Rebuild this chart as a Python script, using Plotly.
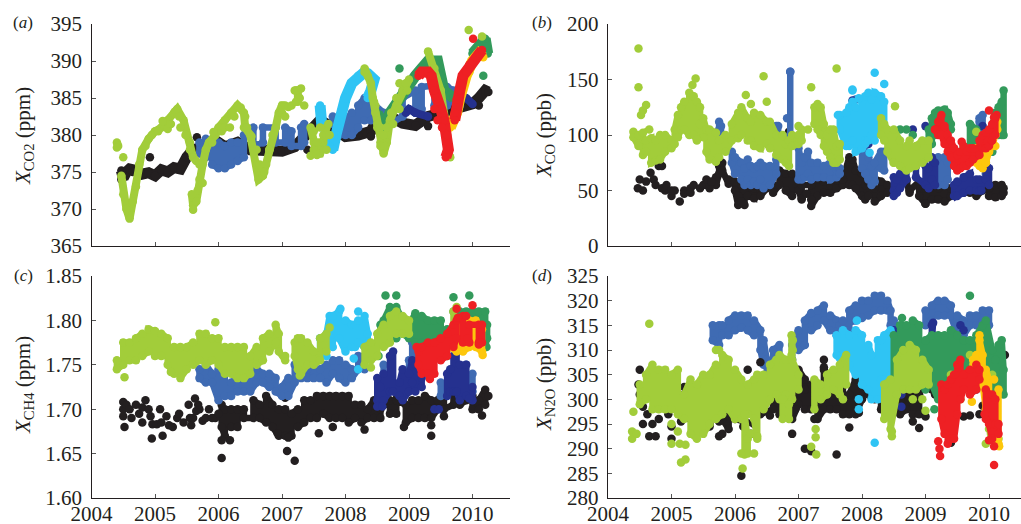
import plotly.graph_objects as go

BLACK, LGREEN, BLUE, NAVY, LBLUE, DGREEN, GOLD, RED = (
    "#231f20", "#a2cd3a", "#3f6bb3", "#25318f", "#2fc4f4", "#339a5b", "#fdc70c", "#ee2024")
YEARS = [2004, 2005, 2006, 2007, 2008, 2009, 2010]
TICKS_A = [365, 370, 375, 380, 385, 390, 395]
TICKS_B = [0, 50, 100, 150, 200]
TICKS_C = [1.60, 1.65, 1.70, 1.75, 1.80, 1.85]
TICKS_D = [280, 285, 290, 295, 300, 305, 310, 315, 320, 325]

# x values are years after 2000; None breaks a run. Panel (a): CO2
A_BLACK_X = [4.47,4.5,4.55,4.6,4.7,4.8,4.9,5.0,5.1,5.2,5.3,5.4,5.5,5.6,5.8,6.0,6.1,6.3,6.5,6.9,7.0,7.2,7.4,7.5,7.6,7.8,8.0,8.2,8.4,8.5,8.7,8.9,9.1,9.3,9.5,9.8,10.0,10.1,10.2,10.25]
A_BLACK_Y = [375.2,374.2,375,375.4,375.2,374.7,374.9,374.5,375.3,375,375.6,375.4,377,378,378.5,379,378.4,379,378,378,377.8,378.4,380,381,382,381,379.8,380,380.5,382,382.5,381.6,381.3,382.5,383,384,384.2,385,386,385.8]
A_BLACK_DX = [4.92,5.66,4.47,4.65,8.4,7.4,7.1,9.3,10.1]
A_BLACK_DY = [377,379.7,374,375,379.8,378,378,381.2,384]
A_BLUE_X = [5.7,5.8,5.9,6.0,6.1,6.2,6.3,6.4,6.55,6.7,6.9,7.05,7.15,7.3,7.35,None,7.8,7.9,8.0,8.1,8.2,8.3,8.4,8.6,8.9,9.1,9.2,9.4,9.6,9.7,9.8]
A_BLUE_HI = [379,379.5,379,379,378.5,379,379,380,381,381,381,381,380.5,381,381.5,None,382.5,381,382,383,384,385,384.5,383,385,386,386.5,386.7,386.5,386,385.5]
A_BLUE_LO = [377.5,377,376,375.5,375.5,376,376.5,377,378.5,379,379,379,378.5,378.5,379,None,381.5,380,380,380,381,382,382,381,382.5,383,383.5,384,384,384.5,384]
A_NAVY_X = [8.95,9.0,9.1,9.3,None,9.9,10.0]
A_NAVY_Y = [383,383.5,383,382.5,None,385,384.2]
A_LBLUE_X = [7.63,7.6,None,7.7,7.75,7.8,7.85,7.9,8.0,8.1,8.2,8.3,8.35,8.45,8.4,8.35]
A_LBLUE_Y = [381,384,None,380,378.5,378,380,382,385,387,388,388.5,388.3,387.5,386,385]
A_DGREEN_X = [8.5,8.6,8.7,8.85,8.9,9.0,9.1,9.2,9.3,9.45,9.5,9.55,9.7,None,10.0,10.1,10.2,10.24]
A_DGREEN_Y = [383,381,383,385,386,387,388,389,390,390,388,386,385,None,391,392,393,391]
A_DGREEN_DX = [8.85,10.17]
A_DGREEN_DY = [389,388]
A_LGREEN_X = [4.4,4.42,None,4.47,4.5,4.55,4.6,4.65,4.7,4.75,4.8,4.9,5.0,5.1,5.2,5.3,5.35,5.45,5.5,5.55,5.6,5.65,None,5.58,5.6,5.65,5.7,5.75,5.8,5.85,5.95,6.0,6.1,6.2,6.3,6.4,6.42,6.5,6.55,6.6,6.63,6.7,6.75,6.8,6.9,6.95,7.0,7.05,None,7.2,7.25,7.25,None,7.45,7.5,7.55,7.6,7.65,7.7,None,8.3,8.35,8.4,8.43,8.47,8.5,8.55,8.6,8.65,8.7,8.8,8.9,9.0,None,9.3,9.4,9.5,9.55,9.6,9.6,9.65]
A_LGREEN_Y = [379,378.5,None,374.5,372,370,368.7,371,373,376,378,379.5,380.5,381,382,383,383.5,382,380,378,377,376.5,None,372,370.5,371,374,376,378,379,380,381,382,383,384,383,381,380,378,376,374,374.5,376,378,381,383,384,384,None,386,386,384.5,None,381,379,377.5,377.5,379,381,None,389,388,387,385,383,381,379,377.5,379,382,384,386,387.5,None,391.3,389,386,383,381,378,377]
A_LGREEN_DX = [4.5,4.4,5.6,6.4,9.94,10.15,8.85,9.95,7.6,7.55,9.95,8.3,4.85,4.95,5.05,5.12,5.2,5.25,5.32,5.38,5.4,5.48,5.55,5.7,5.75,5.67,5.9,5.92,6.05,6.1,6.18,6.25,6.35,6.42,6.45,6.52,6.6,6.65,6.68,6.72,6.8,6.85,7.0,7.05,7.1,7.15,7.22,7.3,7.28,7.22,7.35,7.5,7.55,7.6,7.65,7.7,7.7,7.73,7.75,7.5,7.45,7.55,8.47,8.5,8.45,8.55,8.55,8.62,8.6,8.65,8.72,8.75,8.8,8.85,8.95,8.97]
A_LGREEN_DY = [377,378.3,369.9,381,394.2,393.3,387,388.5,379,378.5,389.5,388.5,378.5,380,380.5,381.9,380.8,381.5,383.2,382.5,381,380,379,376,373.5,372.5,379,380.4,380.5,381,381,382.5,383.7,382.5,381,379.8,378,376,375,375,378,380,383,382.5,383.8,384,386,386.3,385,384.5,384,380.5,379,381,380,378,380,381.5,380,378,377.2,377.3,384,381.5,384.5,381,378.5,378.5,380,381,383,381.5,385,383.5,387,386]
A_GOLD_X = [9.65,9.7,9.75,9.8,9.85,9.9,9.95,10.0,10.1,10.17]
A_GOLD_Y = [381,382,383,385,387,388,389,390,391,390.5]
A_RED_X = [9.15,9.2,9.3,9.35,9.4,9.45,9.5,9.55,9.6,9.62,9.58,None,9.72,9.75,9.8,9.85,9.9,9.95,10.0,10.05,10.1,10.15]
A_RED_Y = [388,388.5,388.5,388,386,385,383.5,382,380,378,377,None,382,384.8,386,388,388.5,389.5,390,390.5,391,391.5]
A_RED_DX = [10.01,9.4,9.45,9.52,9.72]
A_RED_DY = [393,383.5,382,381,383]

# Panel (b): CO
B_BLACK_X = [5.7,5.75,5.8,5.9,6.0,6.05,6.1,6.15,6.2,6.3,6.4,6.5,6.6,6.7,6.8,6.9,7.0,7.05,7.2,7.3,7.4,7.5,7.6,7.7,7.8,7.85,7.9,8.0,8.05,8.1,8.2,8.3,8.4,8.5,8.7,8.75,8.9,9.0,9.1,9.2,9.3,9.4,9.6,9.7,9.8,9.9,10.0,10.1,10.2,10.23]
B_BLACK_HI = [62,72,75,60,58,45,55,50,58,52,50,58,55,68,65,65,60,55,55,60,58,55,62,60,80,78,68,65,55,58,52,58,55,52,60,50,58,52,55,52,55,52,50,50,50,52,52,55,55,52]
B_BLACK_LO = [55,65,68,56,50,37,40,37,45,43,45,52,48,55,50,45,50,42,36,45,48,48,52,55,55,55,52,45,42,45,40,45,48,50,58,48,45,38,42,42,40,45,48,48,45,50,45,44,45,48]
B_BLACK_DX = [4.5,4.47,4.55,4.6,4.67,4.72,4.75,4.8,4.85,4.85,4.9,4.92,5.0,5.0,5.05,5.13,5.2,5.2,5.3,5.3,5.35,5.45,5.5,5.55,5.6,5.55,5.63,6.85,7.05,7.2,7.13,8.75,9.0]
B_BLACK_DY = [60,52,50,58,66,60,55,72,72,52,50,55,45,50,50,40,50,47,52,48,55,52,55,55,52,60,58,103,43,42,47,50,38]
B_BLUE_X = [5.75,5.78,None,5.95,6.0,6.1,6.15,6.2,6.25,6.3,6.35,6.4,6.45,6.55,6.65,6.68,None,6.87,6.87,None,7.0,7.05,7.1,7.15,7.2,7.3,7.4,7.5,7.6,7.65,None,8.0,8.05,8.1,8.15,8.2,8.3,8.35,None,9.2,9.3,9.35,None,9.85,9.9,9.95]
B_BLUE_HI = [112,108,None,85,80,75,70,78,72,70,72,75,72,72,78,108,None,157,157,None,88,75,80,85,75,75,72,75,68,70,None,85,85,80,72,75,85,85,None,80,80,75,None,115,118,85]
B_BLUE_LO = [105,100,None,75,65,60,55,60,55,58,55,60,52,55,65,85,None,100,100,None,60,60,62,65,60,62,62,60,62,65,None,70,65,60,55,58,70,68,None,55,55,60,None,100,100,65]
B_BLUE_DX = [6.65,6.82,6.95,7.55,7.9,9.9,9.85,10.05]
B_BLUE_DY = [108,115,92,72,132,105,112,85]
B_NAVY_X = [8.5,8.55,8.6,8.7,8.85,9.0,9.05,9.1,9.15,None,9.45,9.5,9.6,9.7,9.8,9.85,9.95,10.0]
B_NAVY_HI = [62,60,65,72,72,72,70,80,75,None,55,58,62,65,60,60,75,70]
B_NAVY_LO = [50,48,52,60,62,55,52,60,55,None,45,45,48,50,50,50,60,55]
B_NAVY_DX = [9.0,8.8,8.5,9.9,9.88,8.1,7.85]
B_NAVY_DY = [108,105,45,108,50,92,131]
B_LBLUE_X = [7.65,7.75,7.8,7.85,7.9,8.0,8.05,8.1,8.15,8.2,8.3,8.35]
B_LBLUE_HI = [118,120,125,130,125,130,135,138,132,138,135,130]
B_LBLUE_LO = [105,90,90,95,85,88,95,95,100,100,105,105]
B_LBLUE_DX = [7.85,7.85,7.95,8.2,8.35,8.05,8.12,8.2,7.62]
B_LBLUE_DY = [140,141,133,156,146,92,84,95,118]
B_DGREEN_X = [9.05,9.1,9.15,9.2,9.3,9.35,9.4,None,9.7,9.8,None,10.05,10.1,10.15,10.2,10.23]
B_DGREEN_HI = [105,115,120,122,123,120,110,None,110,105,None,108,120,125,130,140]
B_DGREEN_LO = [90,92,100,105,110,105,105,None,90,90,None,85,100,100,100,100]
B_DGREEN_DX = [8.6,8.8,8.7,8.5,9.55,9.6]
B_DGREEN_DY = [105,100,105,80,85,90]
B_LGREEN_X = [4.4,4.48,4.55,4.6,4.68,4.75,4.82,4.9,5.0,5.05,5.1,5.15,5.2,5.28,5.35,5.4,5.45,5.5,5.55,5.6,5.7,5.75,5.85,5.95,6.05,6.1,6.2,6.25,6.3,6.4,6.5,6.55,6.65,6.75,6.8,6.85,6.9,7.0,7.05,None,7.25,7.3,7.35,7.4,7.45,7.5,7.55,7.6,7.65,None,8.3,8.35,8.4,8.5,8.6,8.7,8.75,8.85,8.95,9.05]
B_LGREEN_HI = [103,100,102,95,97,95,100,100,95,105,118,125,130,138,135,130,125,115,105,105,102,95,100,110,120,125,115,112,120,118,112,112,100,100,92,95,100,100,105,None,125,128,125,110,100,105,105,90,92,None,115,110,105,105,95,90,95,90,95,95]
B_LGREEN_LO = [98,90,82,85,75,77,78,85,88,92,98,105,105,100,100,95,110,98,85,78,76,80,85,95,97,100,95,95,90,88,92,88,82,78,75,72,90,92,95,None,110,105,100,90,85,80,75,75,78,None,100,95,85,75,72,68,70,72,75,80]
B_LGREEN_DX = [4.48,4.48,4.52,4.55,4.6,4.65,5.33,5.38,6.17,6.45,6.5,7.2,7.6,8.52,5.4,9.8,6.25,6.05,7.0,7.15,8.5]
B_LGREEN_DY = [178,143,118,122,127,105,145,151,136,153,130,143,160,126,96,103,128,118,108,105,75]
B_GOLD_X = [9.75,9.8,9.85,9.9,9.95,10.0,10.05,10.1,10.13]
B_GOLD_HI = [82,88,88,85,75,85,90,100,112]
B_GOLD_LO = [82,75,72,70,75,85,90,100,105]
B_GOLD_DX = [10.1]
B_GOLD_DY = [90]
B_RED_X = [9.15,9.2,9.25,9.3,9.35,9.4,9.45,9.5,9.55,9.6,9.65,9.7,9.75,9.85,9.9,9.95,10.0,10.05,10.1]
B_RED_HI = [105,112,118,108,100,95,88,82,85,90,85,88,88,95,100,102,105,110,115]
B_RED_LO = [105,100,100,92,85,80,72,68,70,72,72,75,78,82,88,88,90,95,100]
B_RED_DX = [10.0,10.12,9.57,10.08]
B_RED_DY = [122,118,94,116]

# Panel (c): CH4
C_BLACK_X = [6.05,6.1,6.2,6.3,6.4,6.55,6.65,6.75,6.85,6.95,7.05,7.15,7.25,7.35,7.45,7.55,7.65,7.75,7.85,7.95,8.05,8.15,8.25,8.35,8.45,8.55,8.7,8.8,8.95,9.05,9.15,9.25,9.35,9.45,9.55,9.7,9.8,9.9,10.0,10.1,10.2]
C_BLACK_HI = [1.705,1.70,1.70,1.70,1.70,1.71,1.705,1.715,1.705,1.70,1.70,1.695,1.70,1.71,1.71,1.715,1.715,1.715,1.715,1.715,1.715,1.705,1.705,1.70,1.71,1.70,1.71,1.71,1.705,1.71,1.71,1.715,1.71,1.71,1.72,1.72,1.72,1.72,1.715,1.71,1.722]
C_BLACK_LO = [1.68,1.67,1.68,1.68,1.69,1.69,1.69,1.685,1.68,1.67,1.67,1.67,1.68,1.685,1.69,1.69,1.695,1.69,1.69,1.69,1.685,1.69,1.685,1.69,1.69,1.69,1.695,1.695,1.685,1.69,1.69,1.69,1.69,1.70,1.70,1.705,1.705,1.71,1.70,1.70,1.705]
C_BLACK_DX = [4.5,4.5,4.5,4.52,4.55,4.6,4.63,4.7,4.75,4.8,4.8,4.85,4.9,4.93,4.95,4.96,5.03,5.08,5.12,5.1,5.18,5.22,5.28,5.35,5.38,5.45,5.53,5.55,5.57,5.63,5.65,5.7,5.75,5.85,5.95,6.05,6.05,6.18,5.6,7.08,7.2,6.93,7.1,7.58,7.8,8.3,8.92,9.35,9.35,10.25,10.15,9.55,7.05,5.68,5.8,5.9,6.0]
C_BLACK_DY = [1.708,1.70,1.692,1.68,1.705,1.70,1.69,1.705,1.695,1.702,1.685,1.71,1.70,1.692,1.667,1.683,1.683,1.70,1.67,1.685,1.692,1.682,1.68,1.69,1.695,1.685,1.705,1.69,1.682,1.712,1.698,1.70,1.687,1.70,1.69,1.645,1.665,1.665,1.69,1.653,1.642,1.673,1.668,1.673,1.68,1.677,1.68,1.67,1.682,1.715,1.693,1.692,1.713,1.705,1.69,1.69,1.695]
C_BLUE_X = [5.7,5.8,5.9,6.0,6.1,6.2,6.3,6.4,6.5,6.6,6.7,6.8,6.9,7.0,7.1,7.2,7.3,7.4,7.5,7.6,7.7,7.8,7.9,8.0,8.1,8.2,8.3,None,8.6,None,9.0,9.05,9.1,None,9.5,None,9.9,10.0]
C_BLUE_HI = [1.745,1.75,1.74,1.745,1.75,1.73,1.735,1.74,1.745,1.745,1.74,1.74,1.735,1.725,1.735,1.75,1.75,1.745,1.75,1.745,1.75,1.755,1.755,1.75,1.745,1.76,1.76,None,1.75,None,1.755,1.775,1.76,None,1.73,None,1.75,1.74]
C_BLUE_LO = [1.735,1.73,1.73,1.71,1.715,1.715,1.72,1.72,1.72,1.73,1.73,1.725,1.72,1.715,1.715,1.73,1.735,1.735,1.735,1.735,1.73,1.74,1.735,1.73,1.735,1.745,1.745,None,1.74,None,1.74,1.75,1.74,None,1.715,None,1.72,1.72]
C_NAVY_X = [8.5,8.55,8.6,8.7,8.75,8.85,8.9,9.0,9.05,9.1,9.2,None,9.6,9.65,9.7,9.75,9.8,9.9,10.0]
C_NAVY_HI = [1.735,1.725,1.74,1.76,1.765,1.73,1.745,1.74,1.755,1.75,1.735,None,1.74,1.745,1.76,1.765,1.75,1.75,1.725]
C_NAVY_LO = [1.71,1.705,1.71,1.72,1.72,1.715,1.71,1.72,1.73,1.72,1.725,None,1.715,1.72,1.72,1.72,1.71,1.715,1.71]
C_NAVY_DX = [9.4,9.47,8.5,8.58,9.95]
C_NAVY_DY = [1.70,1.70,1.703,1.703,1.712]
C_LBLUE_X = [7.6,7.7,7.75,7.8,7.9,8.0,8.1,8.15,8.2,8.3,8.35]
C_LBLUE_HI = [1.78,1.785,1.805,1.805,1.81,1.80,1.795,1.795,1.80,1.805,1.785]
C_LBLUE_LO = [1.76,1.76,1.78,1.77,1.78,1.765,1.77,1.77,1.775,1.77,1.775]
C_LBLUE_DX = [8.2,8.2,8.13,7.92]
C_LBLUE_DY = [1.81,1.745,1.757,1.813]
C_DGREEN_X = [8.55,8.6,8.7,8.8,8.9,9.0,9.1,9.2,9.3,9.4,9.5,9.6,None,9.8,9.9,10.0,10.1,10.2,10.23]
C_DGREEN_HI = [1.795,1.80,1.815,1.815,1.80,1.795,1.808,1.805,1.80,1.80,1.80,1.79,None,1.81,1.81,1.81,1.81,1.81,1.795]
C_DGREEN_LO = [1.78,1.78,1.79,1.78,1.785,1.78,1.775,1.775,1.77,1.775,1.775,1.76,None,1.79,1.79,1.79,1.785,1.775,1.78]
C_DGREEN_DX = [8.63,8.8,9.95,9.7,10.22,8.52,9.7]
C_DGREEN_DY = [1.828,1.828,1.828,1.826,1.77,1.76,1.81]
C_LGREEN_X = [4.4,4.5,4.6,4.7,4.8,4.9,5.0,5.1,5.2,5.3,5.4,5.5,5.6,5.7,5.8,5.9,6.0,6.1,6.2,6.3,6.4,6.5,6.6,6.7,6.8,6.9,6.95,7.05,None,7.2,7.25,7.3,7.4,7.5,7.6,7.7,None,8.3,8.4,8.5,8.6,8.7,8.8,8.9,9.0,None,9.7]
C_LGREEN_HI = [1.755,1.775,1.775,1.78,1.785,1.79,1.788,1.785,1.78,1.77,1.77,1.77,1.775,1.785,1.785,1.78,1.78,1.77,1.77,1.77,1.77,1.76,1.77,1.78,1.785,1.795,1.785,1.76,None,1.775,1.78,1.78,1.775,1.765,1.78,1.785,None,1.77,1.775,1.785,1.795,1.805,1.81,1.805,1.80,None,1.81]
C_LGREEN_LO = [1.745,1.75,1.755,1.755,1.76,1.765,1.76,1.76,1.75,1.74,1.735,1.745,1.75,1.755,1.75,1.755,1.75,1.74,1.74,1.735,1.735,1.74,1.75,1.755,1.765,1.775,1.765,1.755,None,1.76,1.745,1.74,1.75,1.75,1.755,1.765,None,1.75,1.755,1.76,1.77,1.775,1.785,1.785,1.785,None,1.78]
C_LGREEN_DX = [4.52,5.25,5.95,7.75,7.28,8.4,9.75]
C_LGREEN_DY = [1.736,1.742,1.798,1.792,1.738,1.747,1.815]
C_GOLD_X = [9.65,9.75,9.85,9.95,10.05,10.15]
C_GOLD_HI = [1.785,1.795,1.80,1.80,1.80,1.79]
C_GOLD_LO = [1.77,1.765,1.765,1.77,1.77,1.765]
C_GOLD_DX = [10.16]
C_GOLD_DY = [1.761]
C_RED_X = [9.15,9.2,9.3,9.4,9.5,9.6,9.7,9.75,None,9.85,9.95,10.1,10.15]
C_RED_HI = [1.765,1.77,1.775,1.775,1.78,1.785,1.795,1.80,None,1.805,1.795,1.795,1.795]
C_RED_LO = [1.75,1.74,1.74,1.74,1.755,1.76,1.77,1.78,None,1.775,1.775,1.775,1.775]
C_RED_DX = [9.12,9.33,9.75,10.0,9.9,10.12,9.77,9.92,10.1]
C_RED_DY = [1.77,1.734,1.813,1.817,1.805,1.775,1.803,1.78,1.773]

# Panel (d): N2O
D_BLACK_X = [5.3,5.4,5.5,5.6,5.8,5.9,6.0,6.3,6.4,6.6,6.7,6.8,6.9,7.0,7.1,7.2,7.3,7.4,7.5,7.6,7.7,7.8,7.9,8.0,8.1,8.2,8.3,8.5,8.6,8.7,8.8,8.9,9.1]
D_BLACK_HI = [300,300,299,298,300,298,300,299,303,303,302,302,304,306,304,303,303,306,304,303,305,301,304,306,307,303,303,302,300,302,303,301,310]
D_BLACK_LO = [296,295,295,295,296,294,296,295,297,298,297,297,296,299,298,298,296,298,298,298,297,297,297,300,301,300,298,298,297,298,297,297,302]
D_BLACK_DX = [4.5,4.55,4.55,4.62,4.65,4.7,4.75,4.8,4.85,4.95,5.0,5.0,5.15,5.2,5.2,5.5,5.6,5.7,5.75,5.75,5.8,6.1,6.13,6.2,6.25,6.55,6.4,6.9,6.95,7.1,7.1,7.2,7.25,7.4,7.4,7.6,7.65,7.8,7.95,8.8,8.9,9.0,9.15,9.25,9.4,9.5,9.6,9.7,9.85,9.9,10.25,9.25,4.5,4.48]
D_BLACK_DY = [306,298.5,295,297,292.5,295,292.5,296,299,297,292,294.5,295.5,301,302.5,294.5,294.5,298,295.5,292.5,293,284.5,294.5,306,293,296.7,307.5,293,298,290,302,289.5,296,308,306.5,288.8,303,294.3,297.3,295.5,294.2,296.5,301,301,291.2,300,296.5,296.7,297,298.7,309,310.5,301,303]
D_BLUE_X = [5.65,5.75,5.8,5.9,6.0,6.1,6.2,6.3,6.4,6.45,6.5,6.6,6.7,None,6.9,7.0,7.1,7.2,7.3,7.4,7.5,7.6,7.65,7.7,7.8,7.9,8.0,8.1,8.2,8.3,8.4,8.45,8.5,None,9.0,9.1,9.2,9.3,9.4,9.5,9.6,9.7,9.8,9.9,10.0]
D_BLUE_HI = [315,315,315,316,317,317,317,316,314,312,308,310,311,None,311,314,316,317.5,318,319,317,316,315,316,318,319,320,320,321,321,320,318,316,None,318,319,320,320,319,317,316,317,317,318,318]
D_BLUE_LO = [312,311,313,313,314,314.5,314,313,310,307,305,306,308,None,308,310,311,314,315,316,314,313,312,312,314,316,316.5,317,318,318,318,315,313,None,315,316,317,317,317,313,313,315,315,316,315]
D_NAVY_X = [9.1,9.12]
D_NAVY_HI = [315,315.5]
D_NAVY_LO = [312,313]
D_NAVY_DX = [8.6,8.62,8.62,9.55,9.6,9.35,9.8,8.5]
D_NAVY_DY = [303,301,298.5,315,314,311,302,314]
D_LBLUE_X = [7.6,7.7,7.8,7.9,8.0,8.1,8.15,8.25,8.3,8.35,8.45]
D_LBLUE_HI = [313,314,313,314,313,311,309,312,312,313,314]
D_LBLUE_LO = [309,307,307,305,303,302,300,300,304,304,305]
D_LBLUE_DX = [7.92,7.95,7.95,8.2]
D_LBLUE_DY = [316,300,298,291.2]
D_DGREEN_X = [8.5,8.6,8.7,8.8,8.9,9.0,9.1,9.2,9.3,9.4,9.5,9.6,9.7,9.8,9.9,9.95,10.05,10.1,10.15,10.2,10.23]
D_DGREEN_HI = [313,315,315,316,315,312,313,313,313,314,313,312,312,313,315,316,310,308,311,312,306]
D_DGREEN_LO = [304,303,305,303,304,302,303,300,302,305,303,303,305,305,306,305,303,302,301,302,301]
D_DGREEN_DX = [9.7,8.63,9.14]
D_DGREEN_DY = [321,316.5,298]
D_LGREEN_X = [4.5,4.6,4.7,4.8,4.9,5.0,5.1,5.2,5.3,5.4,5.5,5.6,5.7,5.8,5.9,6.0,6.1,6.2,6.3,6.35,6.45,6.55,6.65,6.7,6.8,6.9,7.0,None,7.25,7.35,7.45,7.55,7.65,7.75,None,8.35,8.45,8.55,8.65,8.75,8.85,8.95,9.05,None,6.15,6.2,None,6.75,6.85,None,6.89,6.91]
D_LGREEN_HI = [303,305,307,306,306,305,306,301,304,303,305,305,307,309,308,306,304,303,304,305,305,307,308,309,308,308,305,None,304,303,305,306,307,309,None,303,304,308,310,311,310,308,306,None,297,292,None,300,299,None,313,312]
D_LGREEN_LO = [299,300,298,298,298,298,297,296,293,292,293,295,296,297,298,296,296,297,296,292,298,300,301,300,301,300,302,None,298,300,301,302,301,303,None,296,294,301,302,302,302,303,303,None,288.8,289,None,296,296,None,309,310]
D_LGREEN_DX = [4.65,4.38,4.38,4.4,4.45,5.0,5.0,5.1,5.15,5.22,5.13,5.22,5.7,5.75,6.1,6.3,6.12,6.25,6.35,7.28,7.2,7.27,7.27,7.7,8.47,8.47,8.8,8.95,9.0,9.95,10.0,10.03,10.15,9.55,9.4,9.7,9.75,9.85,10.05]
D_LGREEN_DY = [315.3,292,293.5,297.5,293,295,291,293.5,287.2,287.8,291,290.8,310,310,289,289,286,293,292.5,288.8,290.4,294,292.3,300,292.5,293.5,300,300,297.7,291,294,293,292,300,305,309,307,304,305]
D_GOLD_X = [9.7,9.75,9.8,9.85,9.9,9.95,10.0,10.05,10.1,10.15]
D_GOLD_HI = [304,308,309,312,309,306,304,300,299,302]
D_GOLD_LO = [302,302,304,307,303,298,298,297,295,291]
D_GOLD_DX = [10.08,10.16,9.73,9.85]
D_GOLD_DY = [304,290.5,299.5,313]
D_RED_X = [9.25,9.3,9.35,9.4,9.45,9.5,9.55,9.6,9.7,9.8,9.85,None,9.95,10.0,10.05,10.1,10.15]
D_RED_HI = [303,302,303,304,305,307,308,305,306,307,306,None,302,301,301,300,295]
D_RED_LO = [296,293,291,292,292,297,300,302,301,302,304,None,296,295,292,295,293]
D_RED_DX = [9.23,9.22,9.2,9.93,10.08,10.08,10.0]
D_RED_DY = [288.5,290,291.5,297,286.7,290.5,291.7]

W, H = 1021, 524
MARKER = 8.5
WIDTH = 6.5
THICK = 8
HEAVY = 11


def yr(values):
    return [None if v is None else v + 2000 for v in values]


def snake(x, hi, lo):
    """Join the top and bottom of a band so that its points fill it."""
    xs, ys, flip = [], [], False
    for a, h, l in zip(x, hi, lo, strict=True):
        if a is None:
            xs.append(None); ys.append(None)
            continue
        pair = (l, h) if flip else (h, l)
        xs += [a, a]; ys += list(pair)
        flip = not flip
    return xs, ys


fig = go.Figure()
PANELS = {"a": ("x", "y"), "b": ("x2", "y2"), "c": ("x3", "y3"), "d": ("x4", "y4")}


def band(panel, color, x, y, width=WIDTH):
    xa, ya = PANELS[panel]
    fig.add_trace(go.Scatter(x=yr(x), y=y, mode="lines+markers", xaxis=xa, yaxis=ya, showlegend=False,
                             line=dict(color=color, width=width), marker=dict(color=color, size=MARKER)))


def dots(panel, color, x, y):
    xa, ya = PANELS[panel]
    fig.add_trace(go.Scatter(x=yr(x), y=y, mode="markers", xaxis=xa, yaxis=ya, showlegend=False,
                             marker=dict(color=color, size=MARKER)))


band("a", BLACK, A_BLACK_X, A_BLACK_Y, HEAVY); dots("a", BLACK, A_BLACK_DX, A_BLACK_DY)
band("a", BLUE, *snake(A_BLUE_X, A_BLUE_HI, A_BLUE_LO))
band("a", NAVY, A_NAVY_X, A_NAVY_Y, THICK)
band("a", LBLUE, A_LBLUE_X, A_LBLUE_Y, HEAVY)
band("a", DGREEN, A_DGREEN_X, A_DGREEN_Y, HEAVY); dots("a", DGREEN, A_DGREEN_DX, A_DGREEN_DY)
band("a", LGREEN, A_LGREEN_X, A_LGREEN_Y, THICK); dots("a", LGREEN, A_LGREEN_DX, A_LGREEN_DY)
band("a", GOLD, A_GOLD_X, A_GOLD_Y, HEAVY)
band("a", RED, A_RED_X, A_RED_Y, HEAVY); dots("a", RED, A_RED_DX, A_RED_DY)

band("b", BLACK, *snake(B_BLACK_X, B_BLACK_HI, B_BLACK_LO)); dots("b", BLACK, B_BLACK_DX, B_BLACK_DY)
band("b", BLUE, *snake(B_BLUE_X, B_BLUE_HI, B_BLUE_LO)); dots("b", BLUE, B_BLUE_DX, B_BLUE_DY)
band("b", NAVY, *snake(B_NAVY_X, B_NAVY_HI, B_NAVY_LO)); dots("b", NAVY, B_NAVY_DX, B_NAVY_DY)
band("b", LBLUE, *snake(B_LBLUE_X, B_LBLUE_HI, B_LBLUE_LO)); dots("b", LBLUE, B_LBLUE_DX, B_LBLUE_DY)
band("b", DGREEN, *snake(B_DGREEN_X, B_DGREEN_HI, B_DGREEN_LO)); dots("b", DGREEN, B_DGREEN_DX, B_DGREEN_DY)
band("b", LGREEN, *snake(B_LGREEN_X, B_LGREEN_HI, B_LGREEN_LO)); dots("b", LGREEN, B_LGREEN_DX, B_LGREEN_DY)
band("b", GOLD, *snake(B_GOLD_X, B_GOLD_HI, B_GOLD_LO)); dots("b", GOLD, B_GOLD_DX, B_GOLD_DY)
band("b", RED, *snake(B_RED_X, B_RED_HI, B_RED_LO)); dots("b", RED, B_RED_DX, B_RED_DY)

band("c", BLACK, *snake(C_BLACK_X, C_BLACK_HI, C_BLACK_LO)); dots("c", BLACK, C_BLACK_DX, C_BLACK_DY)
band("c", BLUE, *snake(C_BLUE_X, C_BLUE_HI, C_BLUE_LO))
band("c", LBLUE, *snake(C_LBLUE_X, C_LBLUE_HI, C_LBLUE_LO)); dots("c", LBLUE, C_LBLUE_DX, C_LBLUE_DY)
band("c", DGREEN, *snake(C_DGREEN_X, C_DGREEN_HI, C_DGREEN_LO)); dots("c", DGREEN, C_DGREEN_DX, C_DGREEN_DY)
band("c", NAVY, *snake(C_NAVY_X, C_NAVY_HI, C_NAVY_LO)); dots("c", NAVY, C_NAVY_DX, C_NAVY_DY)
band("c", LGREEN, *snake(C_LGREEN_X, C_LGREEN_HI, C_LGREEN_LO)); dots("c", LGREEN, C_LGREEN_DX, C_LGREEN_DY)
band("c", GOLD, *snake(C_GOLD_X, C_GOLD_HI, C_GOLD_LO)); dots("c", GOLD, C_GOLD_DX, C_GOLD_DY)
band("c", RED, *snake(C_RED_X, C_RED_HI, C_RED_LO)); dots("c", RED, C_RED_DX, C_RED_DY)

band("d", BLUE, *snake(D_BLUE_X, D_BLUE_HI, D_BLUE_LO))
band("d", BLACK, *snake(D_BLACK_X, D_BLACK_HI, D_BLACK_LO)); dots("d", BLACK, D_BLACK_DX, D_BLACK_DY)
band("d", NAVY, *snake(D_NAVY_X, D_NAVY_HI, D_NAVY_LO)); dots("d", NAVY, D_NAVY_DX, D_NAVY_DY)
band("d", LBLUE, *snake(D_LBLUE_X, D_LBLUE_HI, D_LBLUE_LO)); dots("d", LBLUE, D_LBLUE_DX, D_LBLUE_DY)
band("d", DGREEN, *snake(D_DGREEN_X, D_DGREEN_HI, D_DGREEN_LO)); dots("d", DGREEN, D_DGREEN_DX, D_DGREEN_DY)
band("d", LGREEN, *snake(D_LGREEN_X, D_LGREEN_HI, D_LGREEN_LO)); dots("d", LGREEN, D_LGREEN_DX, D_LGREEN_DY)
band("d", GOLD, *snake(D_GOLD_X, D_GOLD_HI, D_GOLD_LO)); dots("d", GOLD, D_GOLD_DX, D_GOLD_DY)
band("d", RED, *snake(D_RED_X, D_RED_HI, D_RED_LO)); dots("d", RED, D_RED_DX, D_RED_DY)

FONT = "Liberation Serif"
AX = dict(showgrid=False, zeroline=False, showline=True, linecolor=BLACK, linewidth=1.4, automargin=False,
          ticks="inside", ticklen=4, tickwidth=1, tickcolor="#555555",
          tickfont=dict(family=FONT, size=21, color=BLACK))


def xaxis(left, right, labels):
    xmax = 2004 + (right - left) / 63.5
    return dict(AX, domain=[left / W, right / W], range=[2004, xmax], tickvals=YEARS,
                ticktext=[str(v) for v in YEARS] if labels else [""] * len(YEARS),
                ticklabelstandoff=-3)


def yaxis(top, bottom, lo, hi, ticks, fmt):
    return dict(AX, domain=[1 - bottom / H, 1 - top / H], range=[lo, hi], tickvals=ticks,
                ticktext=[fmt.format(v) for v in ticks], ticklabelstandoff=4)


fig.update_layout(
    width=W, height=H, margin=dict(l=0, r=0, t=0, b=0), paper_bgcolor="white", plot_bgcolor="white",
    font=dict(family=FONT, color=BLACK),
    xaxis=dict(xaxis(91.5, 510, False), anchor="y"),
    yaxis=dict(yaxis(24, 246, 365, 395, TICKS_A, "{:d}"), anchor="x"),
    xaxis2=dict(xaxis(608, 1021, False), anchor="y2"),
    yaxis2=dict(yaxis(24, 246, 0, 200, TICKS_B, "{:d}"), anchor="x2"),
    xaxis3=dict(xaxis(91.5, 510, True), anchor="y3"),
    yaxis3=dict(yaxis(276, 498, 1.60, 1.85, TICKS_C, "{:.2f}"), anchor="x3"),
    xaxis4=dict(xaxis(608, 1021, True), anchor="y4"),
    yaxis4=dict(yaxis(276, 498, 280, 325, TICKS_D, "{:d}"), anchor="x4"),
)


def note(text, x, y, size, angle=0):
    fig.add_annotation(text=text, x=x / W, y=1 - y / H, xref="paper", yref="paper", showarrow=False,
                       textangle=angle, xanchor="center", yanchor="middle",
                       font=dict(family=FONT, size=size, color=BLACK))


note("(<i>a</i>)", 23, 23, 17)
note("(<i>b</i>)", 542, 23, 17)
note("(<i>c</i>)", 23, 275, 17)
note("(<i>d</i>)", 542, 275, 17)
note("<i>X</i><sub>CO2</sub> (ppm)", 24, 136, 21, -90)
note("<i>X</i><sub>CO</sub> (ppb)", 545, 136, 21, -90)
note("<i>X</i><sub>CH4</sub> (ppm)", 24, 385, 21, -90)
note("<i>X</i><sub>N2O</sub> (ppb)", 545, 385, 21, -90)

fig.write_html("out.html", config={"displayModeBar": False},
               post_script="document.body.style.margin='0';document.documentElement.style.overflow='hidden';")
